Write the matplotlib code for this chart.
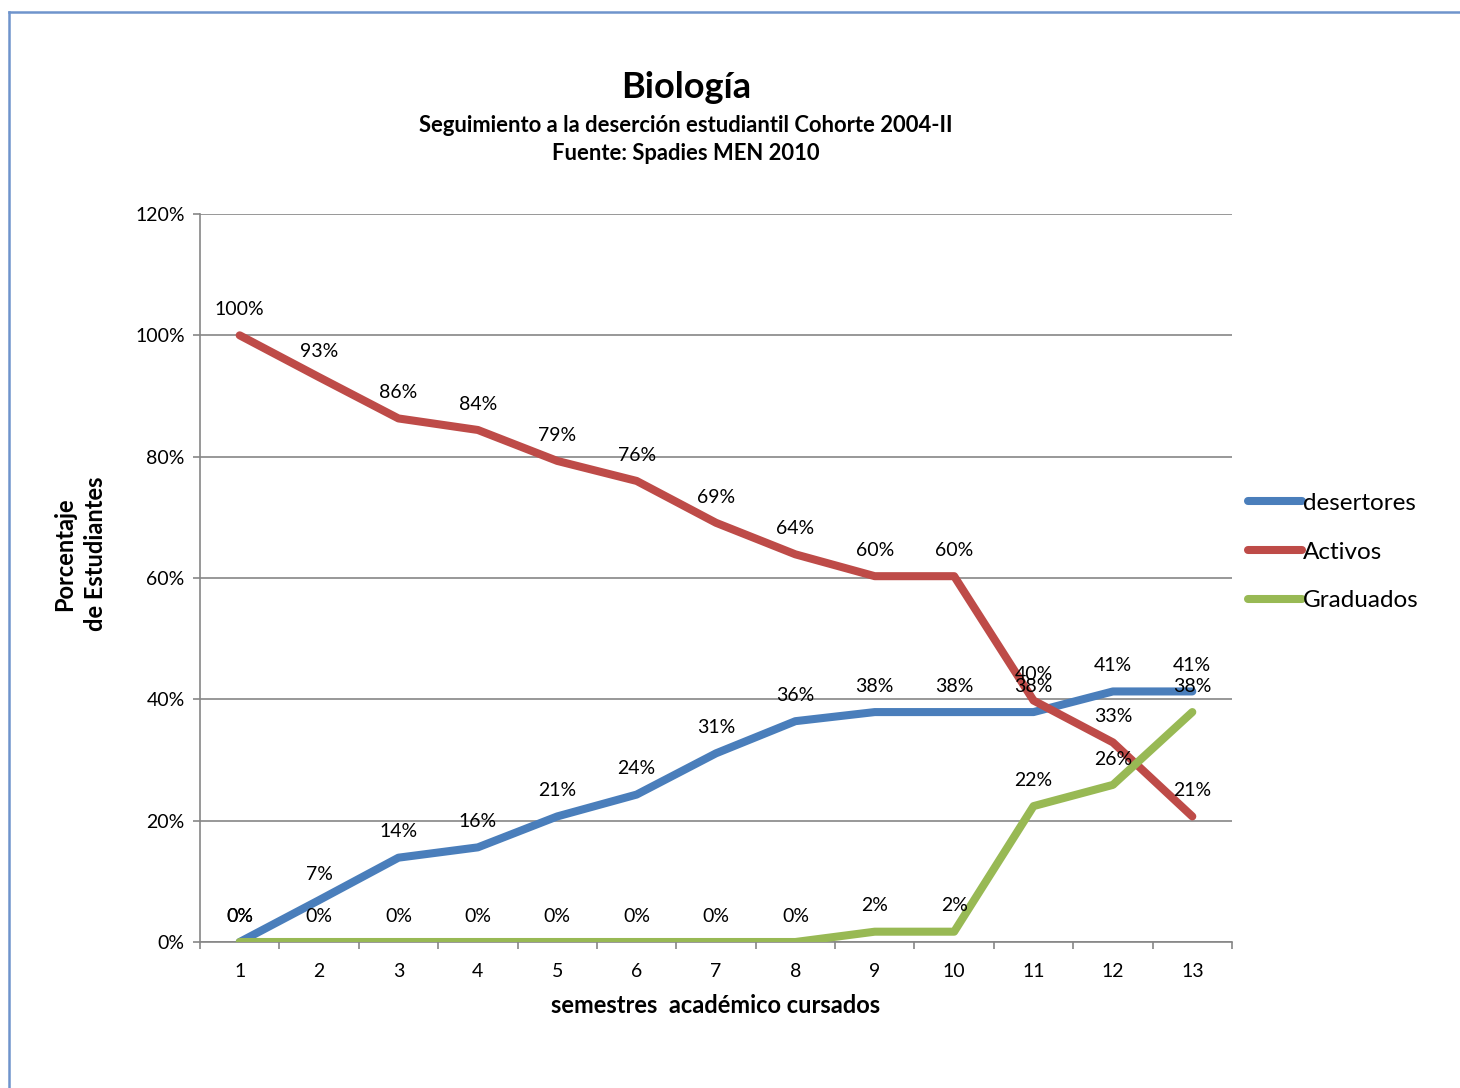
import numpy as np
import matplotlib.pyplot as plt
from matplotlib.lines import Line2D

plt.rcParams['font.family'] = ['Lato', 'DejaVu Sans']

semestres = list(range(1, 14))
desertores = [0.0, 6.9, 13.9, 15.6, 20.7, 24.3, 31.1, 36.4, 37.9, 37.9, 37.9, 41.3, 41.3]
activos = [100.0, 93.1, 86.3, 84.4, 79.3, 76.0, 69.1, 63.9, 60.3, 60.3, 39.8, 32.9, 20.7]
graduados = [0.0, 0.0, 0.0, 0.0, 0.0, 0.0, 0.0, 0.0, 1.7, 1.7, 22.4, 25.9, 37.9]

series = [('desertores', desertores, '#4A7EBB'),
          ('Activos', activos, '#BE4B48'),
          ('Graduados', graduados, '#98B954')]

fig = plt.figure(figsize=(14.6, 10.88), dpi=100)
ax = fig.add_axes([200/1460, 146/1088, 1032/1460, 728/1088])

for name, vals, col in series:
    ax.plot(semestres, np.array(vals)/100, color=col, lw=5.8, solid_capstyle='round',
            solid_joinstyle='round', zorder=3)
for name, vals, col in series:
    for x, v in zip(semestres, vals):
        ax.annotate('%d%%' % round(v), (x, v/100), xytext=(0, 18.5), textcoords='offset points',
                    ha='center', va='center', fontsize=14, zorder=5)

ax.set_xlim(0.5, 13.5)
ax.set_ylim(0, 1.2)
ax.set_yticks(np.arange(0, 1.21, 0.2))
ax.set_yticklabels(['%d%%' % p for p in range(0, 121, 20)])
ax.set_xticks(semestres)
ax.set_xticks(np.arange(0.5, 13.6, 1), minor=True)
ax.tick_params(axis='x', which='major', length=0, pad=15, labelsize=14)
ax.tick_params(axis='x', which='minor', length=5, color='#868686', width=1.2)
ax.tick_params(axis='y', length=5, color='#868686', width=1.2, labelsize=14, pad=6)
ax.grid(axis='y', color='#868686', lw=1.2, zorder=1)
for s in ['top', 'right']:
    ax.spines[s].set_visible(False)
for s in ['left', 'bottom']:
    ax.spines[s].set_color('#868686')
    ax.spines[s].set_linewidth(1.2)

ax.set_xlabel('semestres  académico cursados', fontsize=17, fontweight='bold', labelpad=10)
fig.text(80/1460, 1 - 554/1088, 'Porcentaje\nde Estudiantes', rotation=90, ha='center',
         va='center', multialignment='center', fontsize=17, fontweight='bold',
         linespacing=1.4)

fig.text(686/1460, 1 - 87/1088, 'Biología', ha='center', va='center', fontsize=26, fontweight='bold')
fig.text(686/1460, 1 - 125/1088, 'Seguimiento a la deserción estudiantil Cohorte 2004-II',
         ha='center', va='center', fontsize=15.8, fontweight='bold')
fig.text(686/1460, 1 - 153/1088, 'Fuente: Spadies MEN 2010',
         ha='center', va='center', fontsize=15.8, fontweight='bold')

handles = [Line2D([], [], color=c, lw=5.8, solid_capstyle='round') for _, _, c in series]
leg = fig.legend(handles, [n for n, _, _ in series], loc='center left',
                 bbox_to_anchor=(1236/1460, 1 - 552/1088), frameon=False, fontsize=17.5,
                 handlelength=2.2, handletextpad=0.05, labelspacing=1.15, borderpad=0)

# marco del grafico
fig.add_artist(Line2D([9/1460, 9/1460], [0, 1 - 12/1088], color='#6F94CC', lw=1.8,
                      transform=fig.transFigure))
fig.add_artist(Line2D([9/1460, 1], [1 - 12/1088, 1 - 12/1088], color='#6F94CC', lw=1.8,
                      transform=fig.transFigure))

fig.savefig('out.png', dpi=100)
